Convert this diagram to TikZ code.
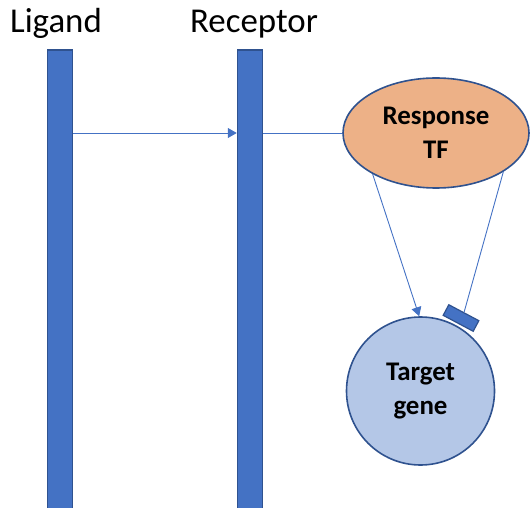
\documentclass[tikz,border=0pt]{standalone}
\usepackage{fontspec}
\setmainfont{Carlito}
\usepackage{tikz}
\usetikzlibrary{arrows.meta,shapes.geometric}

\definecolor{barblue}{RGB}{68,114,196}
\definecolor{bardark}{RGB}{47,82,143}
\definecolor{respfill}{RGB}{237,177,135}
\definecolor{genefill}{RGB}{180,199,231}

\begin{document}
\begin{tikzpicture}[x=1bp,y=-1bp,>={Triangle[length=9bp,width=10bp]},
                    link/.style={draw=barblue,line width=0.9bp},
                    bar/.style={rectangle,draw=bardark,fill=barblue,line width=1.5bp,
                                minimum width=25bp,minimum height=480bp,inner sep=0pt},
                    head/.style={font=\fontsize{35}{41}\selectfont,anchor=base,inner sep=0pt},
                    main node/.style={draw=bardark,line width=1.6bp,inner sep=0pt,align=center,
                                      font=\bfseries\fontsize{27}{34}\selectfont}]
  \useasboundingbox (0,0) rectangle (530,508);

  % the two membranes
  \node[bar] (lig) at (60,290) {};
  \node[bar] (rec) at (250,290) {};
  \node[head] (A) at (56,33) {Ligand};
  \node[head] (B) at (254,33) {Receptor};

  \node[main node,ellipse,fill=respfill,minimum width=186bp,minimum height=110bp] (resp) at (436,133) {Response\\TF};
  \node[main node,circle,fill=genefill,minimum size=148bp] (gene) at (420.5,391) {Target\\gene};
  \node[rectangle,draw=bardark,fill=barblue,line width=1.2bp,minimum width=34bp,minimum height=12bp,
        inner sep=0pt,rotate=-28] (block) at (461,318) {};

  \path
    (lig.east |- resp.west) edge [link,->] (rec.west |- resp.west)
    (rec.east |- resp.west) edge [link] (resp.west)
    (resp.213) edge [link,->] (gene.91)
    (resp.330) edge [link] (block.north);
\end{tikzpicture}
\end{document}
